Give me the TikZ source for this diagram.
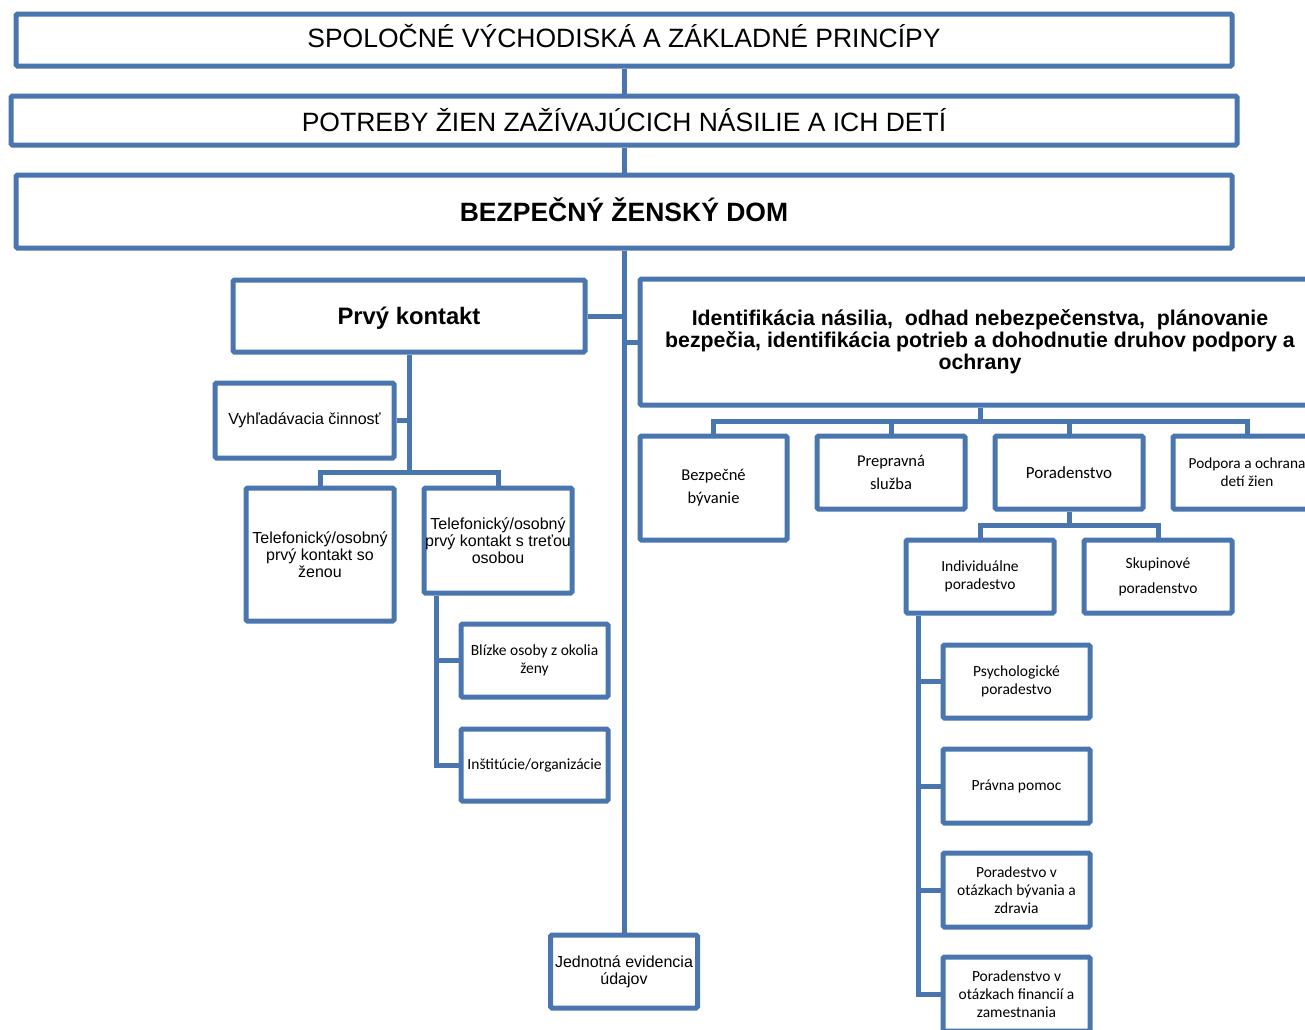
\documentclass[tikz,border=0pt]{standalone}
\usepackage{fontspec}
\setmainfont{Liberation Sans}
\newfontfamily\calibri{Carlito}
\usetikzlibrary{calc}
\definecolor{lineblue}{HTML}{4A76AF}
\tikzset{
  box/.style={draw=lineblue, line width=5pt, rounded corners=1.5pt, fill=white, inner sep=0pt, align=center, text=black},
  conn/.style={draw=lineblue, line width=5pt},
  ftitle/.style={font=\fontsize{26.5}{30}\selectfont},
  fbold/.style={font=\fontsize{26.5}{30}\selectfont\bfseries},
  fsmall/.style={font=\fontsize{16}{17}\selectfont},
  fcal/.style={font=\calibri\fontsize{15.5}{18}\selectfont},
}
\begin{document}
\begin{tikzpicture}[x=1pt,y=-1pt]
\useasboundingbox[fill=white] (0,0) rectangle (1305,1029);
% top level
\node[box,ftitle,text height=19pt,text depth=4pt,minimum width=1216pt,minimum height=52pt] (b1) at (624,40) {SPOLOČNÉ VÝCHODISKÁ A ZÁKLADNÉ PRINCÍPY};
\node[box,ftitle,minimum width=1226pt,minimum height=49pt] (b2) at (624,120.5) {POTREBY ŽIEN ZAŽÍVAJÚCICH NÁSILIE A ICH DETÍ};
\node[box,fbold,text height=20pt,text depth=0pt,minimum width=1216pt,minimum height=73pt] (b3) at (624,211.5) {BEZPEČNÝ ŽENSKÝ DOM};
% first contact branch
\node[box,font=\fontsize{23.8}{28}\selectfont\bfseries,text height=17.4pt,text depth=1pt,minimum width=352pt,minimum height=72pt] (pk) at (409,316) {Prvý kontakt};
\node[box,fsmall,minimum width=179pt,minimum height=75pt] (vyh) at (304.5,420.5) {Vyhľadávacia činnosť};
\node[box,fsmall,minimum width=148pt,minimum height=133pt] (t1) at (320,554.5) {Telefonický/osobný\\prvý kontakt so\\ženou};
\node[box,fsmall,minimum width=148pt,minimum height=105pt] (t2) at (498,540.5) {Telefonický/osobný\\prvý kontakt s treťou\\osobou};
\node[box,fcal,minimum width=147pt,minimum height=73pt] (bl) at (534.5,660.5) {Blízke osoby z okolia\\ženy};
\node[box,fcal,minimum width=147pt,minimum height=72pt] (ins) at (534.5,765) {Inštitúcie/organizácie};
\node[box,fsmall,minimum width=147pt,minimum height=73pt] (jed) at (624,971.5) {Jednotná evidencia\\údajov};
% identification branch
\node[box,font=\fontsize{21.3}{22}\selectfont\bfseries,minimum width=680pt,minimum height=126pt] (idf) at (980,342) {Identifikácia násilia,\ \ odhad nebezpečenstva,\ \ plánovanie\\bezpečia, identifikácia potrieb a dohodnutie druhov podpory a\\ochrany};
\node[box,font=\calibri\fontsize{16.5}{23}\selectfont,minimum width=147pt,minimum height=104pt] (bez) at (713.5,488) {Bezpečné\\bývanie};
\node[box,font=\calibri\fontsize{16.5}{23}\selectfont,minimum width=148pt,minimum height=73pt] (pre) at (891,472.5) {Prepravná\\služba};
\node[box,font=\calibri\fontsize{17}{23}\selectfont,minimum width=148pt,minimum height=73pt] (por) at (1069,472.5) {Poradenstvo};
\node[box,font=\calibri\fontsize{15.3}{18}\selectfont,minimum width=148pt,minimum height=73pt] (pod) at (1247,472.5) {Podpora a ochrana\\detí žien};
\node[box,fcal,minimum width=148pt,minimum height=73pt] (ind) at (980,576.5) {Individuálne\\poradestvo};
\node[box,font=\calibri\fontsize{15.5}{25}\selectfont,minimum width=148pt,minimum height=73pt] (sku) at (1158,576.5) {Skupinové\\poradenstvo};
\node[box,fcal,minimum width=147pt,minimum height=73pt] (psy) at (1016.5,681.5) {Psychologické\\poradestvo};
\node[box,fcal,minimum width=147pt,minimum height=74pt] (pra) at (1016.5,786) {Právna pomoc};
\node[box,fcal,minimum width=147pt,minimum height=74pt] (bzd) at (1016.5,890) {Poradestvo v\\otázkach bývania a\\zdravia};
\node[box,fcal,minimum width=147pt,minimum height=74pt] (fin) at (1016.5,994) {Poradenstvo v\\otázkach financií a\\zamestnania};
% connectors
\coordinate (bar1) at (409,472);
\coordinate (bar2) at (980,421);
\coordinate (bar3) at (1069,525);
\coordinate (v2) at ($(t2.south west)+(15,0)$);
\coordinate (v3) at ($(ind.south west)+(15,0)$);
\draw[conn] (b1.south) -- (b2.north);
\draw[conn] (b2.south) -- (b3.north);
\draw[conn] (b3.south) -- (jed.north);
\draw[conn] (pk.east) -- (pk.east -| b3.south);
\draw[conn] (idf.west) -- (idf.west -| b3.south);
\draw[conn] (pk.south) -- (bar1);
\draw[conn] (vyh.east) -- (vyh.east -| pk.south);
\draw[conn] (t1.north) |- (bar1) -| (t2.north);
\draw[conn] (v2) |- (bl.west);
\draw[conn] (v2) |- (ins.west);
\draw[conn] (idf.south) -- (bar2);
\draw[conn] (bez.north) |- (bar2) -| (pod.north);
\draw[conn] (pre.north) |- (bar2);
\draw[conn] (por.north) |- (bar2);
\draw[conn] (por.south) -- (bar3);
\draw[conn] (ind.north) |- (bar3) -| (sku.north);
\draw[conn] (v3) |- (psy.west);
\draw[conn] (v3) |- (pra.west);
\draw[conn] (v3) |- (bzd.west);
\draw[conn] (v3) |- (fin.west);
\end{tikzpicture}
\end{document}
